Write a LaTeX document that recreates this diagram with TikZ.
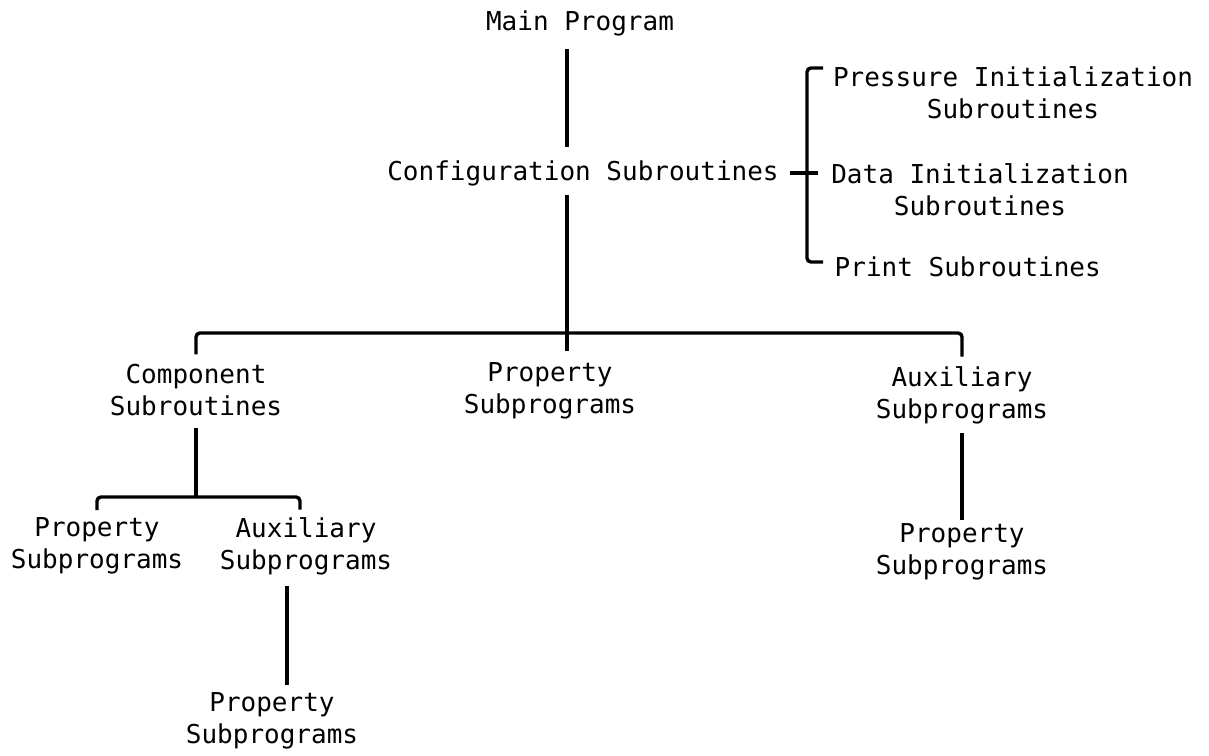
\documentclass[tikz,border=0pt]{standalone}
\usepackage{fontspec}
\setmonofont{DejaVu Sans Mono}
\usetikzlibrary{positioning,calc}
\newcommand{\prgfont}{\ttfamily\fontsize{13pt}{16pt}\selectfont}

\begin{document}
\begin{tikzpicture}[x=0.5pt,y=-0.5pt,line width=1.7pt,
  every node/.style={font=\prgfont,align=center,inner sep=0pt}]
\useasboundingbox (0,0) rectangle (1209,755);
% levels of the tree
\node (main) at (580,23) {Main Program};
\node (config) at (583,173) {Configuration Subroutines};
\node (press) at (1013,93) {Pressure Initialization\\Subroutines};
\node (data) at (980,190) {Data Initialization\\Subroutines};
\node[anchor=west] (print) at (833,267) {Print Subroutines};
\node (comp) at (196,390) {Component\\Subroutines};
\node (prop) at (550,391) {Property\\Subprograms};
\node (aux) at (962,395) {Auxiliary\\Subprograms};
\node (auxprop) at (962,552) {Property\\Subprograms};
\node (lprop) at (97,546) {Property\\Subprograms};
\node (laux) at (306,546) {Auxiliary\\Subprograms};
\node (bprop) at (272,721) {Property\\Subprograms};
\coordinate (trunk) at (567,0);\coordinate (bus) at (0,333);
\coordinate (subbus) at (0,497);\coordinate (lx) at (287,0);
\coordinate (btop) at (807,68);\coordinate (bbot) at (807,262);
% main stem
\draw ([yshift=-6pt]main.south -| trunk) -- ([yshift=6pt]config.north -| trunk);
\draw ([yshift=-4pt]config.south -| trunk) -- ([yshift=5pt]prop.north -| trunk);
\draw[rounded corners=2pt] ([yshift=4pt]comp.north) -- (comp.north |- bus) -- (aux.north |- bus)
 -- ([yshift=4pt]aux.north);
\draw ([yshift=-4pt]aux.south) -- ([yshift=1pt]auxprop.north);
% bracket of the configuration level
\draw[rounded corners=2pt] ([xshift=8pt]btop) -- (btop) -- (bbot) -- ([xshift=8pt]bbot);
\draw ([xshift=5pt]config.east) -- ([xshift=-6pt]data.west |- config);
% component branch
\draw ([yshift=-5pt]comp.south) -- (comp.south |- subbus);
\draw[rounded corners=2pt] ([yshift=3pt]lprop.north) -- (lprop.north |- subbus)
 -- ([xshift=-3pt]laux.north |- subbus) -- ([xshift=-3pt,yshift=3pt]laux.north);
\draw ([yshift=-5pt]laux.south -| lx) -- ([yshift=3pt]bprop.north -| lx);
\end{tikzpicture}
\end{document}
